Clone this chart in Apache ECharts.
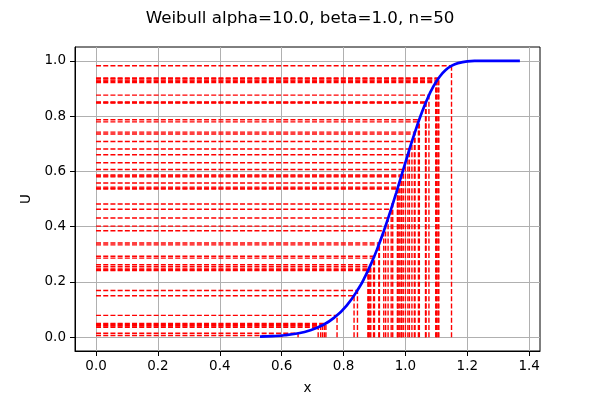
<!DOCTYPE html>
<html>
<head>
	<meta http-equiv="Content-Type" content="text/html; charset=utf-8" />
	<title>Weibull</title>
	<script src="https://cdn.jsdelivr.net/npm/echarts@6.0.0/dist/echarts.min.js"></script>
	<style>
		html, body { margin: 0; padding: 0; background: #fff; }
		#main { width: 600px; height: 400px; }
	</style>
</head>
<body>
	<div id="main"></div>
	<script type="text/javascript">
		// sample values: U level and matching x on the curve
		var sampleU = [0.006, 0.014, 0.036, 0.040, 0.043, 0.047, 0.050, 0.079, 0.150, 0.169,
			0.241, 0.244, 0.247, 0.255, 0.262, 0.286, 0.293, 0.334, 0.341, 0.385,
			0.402, 0.431, 0.463, 0.482, 0.536, 0.539, 0.543, 0.558, 0.580, 0.583,
			0.587, 0.607, 0.631, 0.660, 0.681, 0.708, 0.735, 0.742, 0.779, 0.787,
			0.847, 0.849, 0.851, 0.876, 0.921, 0.926, 0.930, 0.935, 0.938, 0.982];
		var sampleX = [0.600, 0.653, 0.718, 0.726, 0.732, 0.738, 0.743, 0.779, 0.834, 0.845,
			0.879, 0.880, 0.882, 0.885, 0.888, 0.897, 0.900, 0.914, 0.916, 0.930,
			0.936, 0.944, 0.954, 0.959, 0.974, 0.975, 0.976, 0.980, 0.986, 0.987,
			0.988, 0.993, 1.000, 1.008, 1.013, 1.021, 1.029, 1.031, 1.042, 1.045,
			1.065, 1.066, 1.066, 1.076, 1.098, 1.100, 1.102, 1.106, 1.108, 1.149];

		// CDF curve points
		var curveX = [0.53, 0.57, 0.61, 0.65, 0.69, 0.73, 0.77, 0.81, 0.85, 0.87,
			0.89, 0.91, 0.93, 0.95, 0.97, 0.99, 1.01, 1.03, 1.05, 1.07,
			1.09, 1.11, 1.13, 1.15, 1.17, 1.20, 1.23, 1.27, 1.32, 1.37];
		var curveU = [0.0017, 0.0036, 0.0071, 0.0134, 0.0242, 0.0421, 0.0707, 0.1145, 0.1787, 0.2200,
			0.2679, 0.3226, 0.3837, 0.4505, 0.5216, 0.5952, 0.6687, 0.7392, 0.8038, 0.8602,
			0.9063, 0.9416, 0.9665, 0.9825, 0.9918, 0.9980, 0.9996, 1.0000, 1.0000, 1.0000];

		var xTicks = [0.0, 0.2, 0.4, 0.6, 0.8, 1.0, 1.2, 1.4];
		var yTicks = [0.0, 0.2, 0.4, 0.6, 0.8, 1.0];

		var myChart = echarts.init(document.getElementById('main'));

		var dash = { color: '#ff0000', width: 1.4, type: [5, 2.2] };
		var series = [];
		for (var i = 0; i < sampleU.length; i++) {
			series.push({
				type: 'line',
				data: [[0, sampleU[i]], [sampleX[i], sampleU[i]]],
				symbol: 'none',
				silent: true,
				z: 2,
				lineStyle: dash
			});
			series.push({
				type: 'line',
				data: [[sampleX[i], 0], [sampleX[i], sampleU[i]]],
				symbol: 'none',
				silent: true,
				z: 2,
				lineStyle: dash
			});
		}
		series.push({
			type: 'line',
			data: curveX.map(function (x, k) { return [x, curveU[k]]; }),
			symbol: 'none',
			smooth: true,
			silent: true,
			z: 5,
			lineStyle: { color: '#0000ff', width: 2.7 }
		});

		var tickFmt = function (v) { return Number(v).toFixed(1); };

		myChart.setOption({
			animation: false,
			title: {
				text: 'Weibull alpha=10.0, beta=1.0, n=50',
				left: 'center',
				top: 5,
				textStyle: { fontFamily: 'DejaVu Sans', fontSize: 16.7, fontWeight: 'normal', color: '#000' }
			},
			grid: {
				left: 75, right: 60, top: 47, bottom: 49,
				show: true, borderColor: '#000', borderWidth: 1, backgroundColor: 'transparent'
			},
			xAxis: {
				type: 'value',
				min: -0.068, max: 1.435,
				name: 'x',
				nameLocation: 'middle',
				nameGap: 30,
				nameTextStyle: { fontFamily: 'DejaVu Sans', fontSize: 13.5, color: '#000' },
				axisLine: { show: true, onZero: false, lineStyle: { color: '#000', width: 1 } },
				axisTick: { show: true, length: 5, inside: false, customValues: xTicks, lineStyle: { color: '#000' } },
				axisLabel: { customValues: xTicks, formatter: tickFmt, fontFamily: 'DejaVu Sans', fontSize: 13.5, color: '#000', margin: 8 },
				splitLine: { show: true, lineStyle: { color: '#b0b0b0', width: 1 } }
			},
			yAxis: {
				type: 'value',
				min: -0.05, max: 1.05,
				name: 'U',
				nameLocation: 'middle',
				nameGap: 40,
				nameTextStyle: { fontFamily: 'DejaVu Sans', fontSize: 13.5, color: '#000' },
				axisLine: { show: true, onZero: false, lineStyle: { color: '#000', width: 1 } },
				axisTick: { show: true, length: 5, inside: false, customValues: yTicks, lineStyle: { color: '#000' } },
				axisLabel: { customValues: yTicks, formatter: tickFmt, fontFamily: 'DejaVu Sans', fontSize: 13.5, color: '#000', margin: 9 },
				splitLine: { show: true, lineStyle: { color: '#b0b0b0', width: 1 } }
			},
			series: series
		});
	</script>
</body>
</html>
